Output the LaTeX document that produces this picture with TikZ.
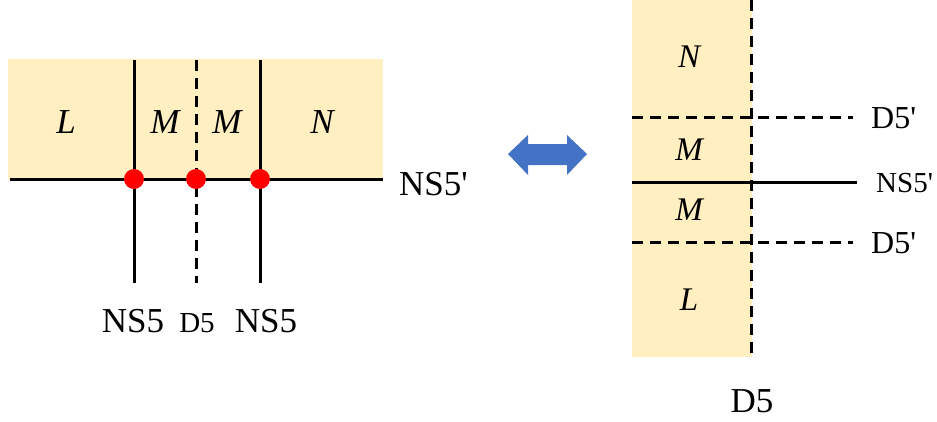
\documentclass[tikz,border=0pt]{standalone}
\usepackage{fontspec}
\setmainfont{Liberation Serif}
\definecolor{brane}{RGB}{255,239,193}
\definecolor{arrowblue}{RGB}{68,114,196}
\definecolor{dotred}{RGB}{255,0,0}
\begin{document}
\begin{tikzpicture}[x=1pt,y=-1pt,
  solidline/.style={line width=3pt},
  dashline/.style={line width=3pt,dash pattern=on 11pt off 7pt},
  region/.style={font=\fontsize{35}{40}\selectfont\itshape},
  regionr/.style={font=\fontsize{33}{38}\selectfont\itshape},
  biglabel/.style={font=\fontsize{35}{40}\selectfont},
  midlabel/.style={font=\fontsize{32}{36}\selectfont},
  smalllabel/.style={font=\fontsize{29}{34}\selectfont},
  reddot/.style={circle,fill=dotred,inner sep=0pt,minimum size=20pt}]
\useasboundingbox (0,0) rectangle (937,421);
% ---------- left picture ----------
\fill[brane] (8,59) rectangle (383,180);
\coordinate (hl) at (10,179);
\coordinate (hr) at (383,179);
\coordinate (a1) at (134,60); \coordinate (b1) at (134,283);
\coordinate (a2) at (196,60); \coordinate (b2) at (196,283);
\coordinate (a3) at (260,60); \coordinate (b3) at (260,283);
\draw[solidline] (hl) -- (hr);
\draw[solidline] (a1) -- (b1);
\draw[dashline] (a2) -- (b2);
\draw[solidline] (a3) -- (b3);
\node[reddot] (d1) at (134,179) {};
\node[reddot] (d2) at (196,179) {};
\node[reddot] (d3) at (260,179) {};
\node[region] (lL) at (66,122) {L};
\node[region] (lM1) at (165,122) {M};
\node[region] (lM2) at (227,122) {M};
\node[region] (lN) at (322,122) {N};
\node[biglabel,anchor=west,inner sep=0pt] (lns5p) at (399,184) {NS5\textquotesingle};
\node[biglabel,anchor=base,inner sep=0pt] (lns5a) at (133,332) {NS5};
\node[smalllabel,anchor=base,inner sep=0pt] (ld5) at (197,332) {D5};
\node[biglabel,anchor=base,inner sep=0pt] (lns5b) at (266,332) {NS5};
% ---------- double arrow ----------
\fill[arrowblue] (508,154) -- (528,135) -- (528,144) -- (567,144) -- (567,135)
  -- (587,154) -- (567,175) -- (567,165) -- (528,165) -- (528,175) -- cycle;
% ---------- right picture ----------
\fill[brane] (632,0) rectangle (752,357);
\coordinate (v1) at (751,0); \coordinate (v2) at (751,358);
\coordinate (h1l) at (632,117); \coordinate (h1r) at (853,117);
\coordinate (h2l) at (632,182); \coordinate (h2r) at (857,182);
\coordinate (h3l) at (632,242); \coordinate (h3r) at (853,242);
\draw[dashline] (h1l) -- (h1r);
\draw[solidline] (h2l) -- (h2r);
\draw[dashline] (h3l) -- (h3r);
\draw[dashline] (v1) -- (v2);
\node[regionr] (rN) at (689,57) {N};
\node[regionr] (rM1) at (689,150) {M};
\node[regionr] (rM2) at (689,210) {M};
\node[regionr] (rL) at (689,300) {L};
\node[midlabel,anchor=west,inner sep=0pt] (rd5a) at (871,118) {D5\textquotesingle};
\node[smalllabel,anchor=west,inner sep=0pt] (rns5p) at (876,183) {NS5\textquotesingle};
\node[midlabel,anchor=west,inner sep=0pt] (rd5b) at (871,243) {D5\textquotesingle};
\node[biglabel,anchor=base,inner sep=0pt] (rd5) at (752,412) {D5};
\end{tikzpicture}
\end{document}
